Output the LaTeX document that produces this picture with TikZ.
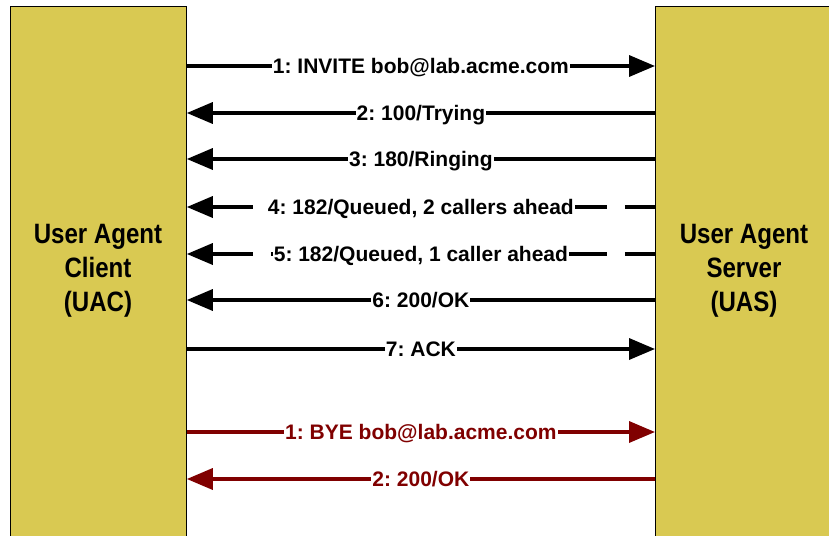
\documentclass[tikz,border=0pt]{standalone}
\usepackage{fontspec}
\setmainfont{Liberation Sans}
\newfontfamily\agentfont{Liberation Sans}[FakeStretch=0.86]
\usetikzlibrary{arrows.meta}
\definecolor{agentfill}{RGB}{217,201,82}
\definecolor{byered}{RGB}{128,0,0}
\tikzset{
  agent/.style={draw=black, line width=0.8pt, fill=agentfill, inner sep=0pt},
  agentlabel/.style={font=\agentfont\bfseries\fontsize{28}{34}\selectfont, align=center},
  msg/.style={line width=3.5pt, -{Triangle[length=26pt,width=21pt]}},
  msgback/.style={line width=3.5pt, {Triangle[length=26pt,width=21pt]}-},
  msglabel/.style={fill=white, inner xsep=1pt, inner ysep=1pt, text height=15pt, text depth=0pt,
    font=\frenchspacing\bfseries\fontsize{21}{21}\selectfont},
  longdash/.style={dash pattern=on 41pt off 18pt},
  byelabel/.style={msglabel, text=byered}
}
\begin{document}
\begin{tikzpicture}[x=1pt,y=-1pt]
\useasboundingbox (0,0) rectangle (829,535);
\clip (0,0) rectangle (829,535);

% the two user agents (both run off the page edge)
\node[agent, minimum width=176pt, minimum height=540pt, anchor=north west] (uac) at (10,6) {};
\node[agent, minimum width=180pt, minimum height=540pt, anchor=north west] (uas) at (655,6) {};
\node[agentlabel] (uactext) at (98,271) {User Agent\\Client\\(UAC)};
\node[agentlabel] (uastext) at (744,271) {User Agent\\Server\\(UAS)};

% message end points on the two lifelines
\foreach \n/\y in {1/66,2/113,3/159,4/207,5/254,6/300,7/349,8/432,9/479}{
  \coordinate (c\n) at (uac.east |- 0,\y);
  \coordinate (s\n) at (uas.west |- 0,\y);
}

% INVITE transaction
\draw[msg] (c1) -- (s1) node[msglabel, midway] (m1) {1: INVITE bob@lab.acme.com};
\draw[msgback] (c2) -- (s2) node[msglabel, midway] (m2) {2: 100/Trying};
\draw[msgback] (c3) -- (s3) node[msglabel, midway] (m3) {3: 180/Ringing};
\draw[msgback, longdash] (c4) -- (s4) node[msglabel, midway] (m4) {4: 182/Queued, 2 callers ahead};
\draw[msgback, longdash] (c5) -- (s5) node[msglabel, midway] (m5) {5: 182/Queued, 1 caller ahead};
\draw[msgback] (c6) -- (s6) node[msglabel, midway] (m6) {6: 200/OK};
\draw[msg] (c7) -- (s7) node[msglabel, midway] (m7) {7: ACK};

% BYE transaction
\draw[msg, draw=byered] (c8) -- (s8) node[byelabel, midway] (m8) {1: BYE bob@lab.acme.com};
\draw[msgback, draw=byered] (c9) -- (s9) node[byelabel, midway] (m9) {2: 200/OK};
\end{tikzpicture}
\end{document}
